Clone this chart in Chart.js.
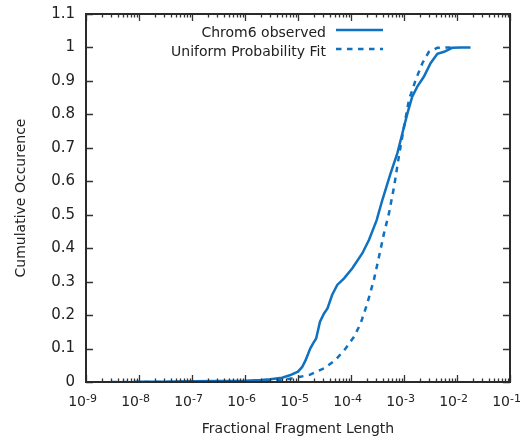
<!DOCTYPE html>
<html>
<head>
<meta charset="utf-8">
<script src="https://cdn.jsdelivr.net/npm/chart.js@4.4.1/dist/chart.umd.min.js"></script>
<style>
  html, body { margin: 0; padding: 0; background: #fff; }
</style>
</head>
<body>
<canvas id="cdf" width="528" height="439"></canvas>
<script>
// --- DATA ---
const observedX = [8.5e-9, 1e-8, 3e-8, 1e-7, 3e-7, 1e-6, 2e-6, 3e-6, 5e-6, 7e-6,
  1e-5, 1.2e-5, 1.4e-5, 1.7e-5, 1.94e-5, 2.2e-5, 2.6e-5, 3.1e-5, 3.6e-5, 4.4e-5,
  5.5e-5, 7.4e-5, 1.06e-4, 1.64e-4, 2.19e-4, 3.05e-4, 3.9e-4, 5.6e-4, 7.5e-4, 9.3e-4,
  1.16e-3, 1.43e-3, 1.78e-3, 2.38e-3, 3.17e-3, 4.26e-3, 5.7e-3, 8.1e-3, 1.2e-2, 1.8e-2];
const observedY = [0.001, 0.001, 0.001, 0.002, 0.003, 0.004, 0.006, 0.008, 0.013, 0.02,
  0.031, 0.045, 0.066, 0.1, 0.116, 0.13, 0.18, 0.205, 0.22, 0.26,
  0.29, 0.31, 0.34, 0.385, 0.425, 0.484, 0.544, 0.624, 0.684, 0.743,
  0.803, 0.853, 0.883, 0.913, 0.953, 0.981, 0.987, 0.999, 1.0, 1.0];

const fitX = [3e-9, 1e-8, 1e-7, 1e-6, 3e-6, 6e-6, 1e-5, 1.7e-5, 3.1e-5, 5.1e-5,
  7.9e-5, 1.14e-4, 1.52e-4, 2.03e-4, 2.7e-4, 3.38e-4, 4.2e-4, 5.2e-4, 6.5e-4, 8.0e-4,
  1.0e-3, 1.24e-3, 1.66e-3, 2.22e-3, 2.95e-3, 4.26e-3, 7.6e-3];
const fitY = [0, 0, 0, 0.001, 0.004, 0.008, 0.014, 0.022, 0.041, 0.066,
  0.10, 0.135, 0.175, 0.235, 0.305, 0.375, 0.445, 0.504, 0.584, 0.674,
  0.763, 0.843, 0.903, 0.953, 0.987, 0.999, 1.0];

const seriesNames = ['Chrom6 observed', 'Uniform Probability Fit'];
const xExponents = [-9, -8, -7, -6, -5, -4, -3, -2, -1];
const yTickValues = [0, 0.1, 0.2, 0.3, 0.4, 0.5, 0.6, 0.7, 0.8, 0.9, 1, 1.1];

const xTitle = 'Fractional Fragment Length';
const yTitle = 'Cumulative Occurence';

// --- STYLE ---
const BLUE = '#0f71c0';
const INK = '#222';
const FONT = '"DejaVu Sans", sans-serif';

function toPoints(xs, ys) {
  return xs.map((x, i) => ({ x: x, y: ys[i] }));
}

// draws the mirrored frame, inside ticks, 10^n labels, titles and legend
const framePlugin = {
  id: 'frame',
  afterDraw(chart) {
    const ctx = chart.ctx;
    const area = chart.chartArea;
    const xs = chart.scales.x;
    const ys = chart.scales.y;
    ctx.save();

    // ticks
    ctx.strokeStyle = '#333';
    ctx.lineWidth = 1.3;
    ctx.beginPath();
    xExponents.forEach(e => {
      const base = Math.pow(10, e);
      const px = Math.round(xs.getPixelForValue(base)) + 0.5;
      ctx.moveTo(px, area.bottom); ctx.lineTo(px, area.bottom - 7);
      ctx.moveTo(px, area.top); ctx.lineTo(px, area.top + 7);
      if (e < -1) {
        for (let m = 2; m <= 9; m++) {
          const mx = Math.round(xs.getPixelForValue(m * base)) + 0.5;
          ctx.moveTo(mx, area.bottom); ctx.lineTo(mx, area.bottom - 3.5);
          ctx.moveTo(mx, area.top); ctx.lineTo(mx, area.top + 3.5);
        }
      }
    });
    yTickValues.forEach(v => {
      const py = Math.round(ys.getPixelForValue(v)) + 0.5;
      ctx.moveTo(area.left, py); ctx.lineTo(area.left + 7, py);
      ctx.moveTo(area.right, py); ctx.lineTo(area.right - 7, py);
    });
    ctx.stroke();

    // border
    ctx.strokeStyle = '#2a2a2a';
    ctx.lineWidth = 2;
    ctx.strokeRect(area.left, area.top, area.right - area.left, area.bottom - area.top);

    // x tick labels 10^n
    ctx.fillStyle = INK;
    ctx.textBaseline = 'alphabetic';
    xExponents.forEach(e => {
      const px = xs.getPixelForValue(Math.pow(10, e));
      ctx.font = '14px ' + FONT;
      ctx.textAlign = 'right';
      ctx.fillText('10', px, area.bottom + 23.5);
      ctx.font = '11px ' + FONT;
      ctx.textAlign = 'left';
      ctx.fillText('-' + Math.abs(e), px, area.bottom + 19.5);
    });

    // axis titles
    ctx.font = '14px ' + FONT;
    ctx.textAlign = 'center';
    ctx.fillText(xTitle, (area.left + area.right) / 2, 433);
    ctx.save();
    ctx.translate(21, (area.top + area.bottom) / 2);
    ctx.rotate(-Math.PI / 2);
    ctx.textBaseline = 'middle';
    ctx.fillText(yTitle, 0, 0);
    ctx.restore();

    // legend
    ctx.textAlign = 'right';
    chart.data.datasets.forEach((ds, i) => {
      const ly = 30 + i * 19;
      ctx.fillStyle = INK;
      ctx.fillText(ds.label, 326, ly + 6.5);
      ctx.strokeStyle = ds.borderColor;
      ctx.lineWidth = ds.borderWidth;
      ctx.setLineDash(ds.borderDash || []);
      ctx.beginPath();
      ctx.moveTo(336, ly);
      ctx.lineTo(383, ly);
      ctx.stroke();
    });
    ctx.setLineDash([]);
    ctx.restore();
  }
};

const chart = new Chart(document.getElementById('cdf').getContext('2d'), {
  type: 'scatter',
  data: {
    datasets: [
      {
        label: seriesNames[0],
        data: toPoints(observedX, observedY),
        showLine: true,
        borderColor: BLUE,
        borderWidth: 2.5,
        pointRadius: 0,
        tension: 0
      },
      {
        label: seriesNames[1],
        data: toPoints(fitX, fitY),
        showLine: true,
        borderColor: BLUE,
        borderWidth: 2.5,
        borderDash: [5.5, 5.5],
        pointRadius: 0,
        tension: 0
      }
    ]
  },
  options: {
    responsive: false,
    animation: false,
    layout: { padding: { left: 0, top: 14, right: 18, bottom: 0 } },
    plugins: { legend: { display: false }, tooltip: { enabled: false } },
    scales: {
      x: {
        type: 'logarithmic',
        min: 1e-9,
        max: 1e-1,
        grid: { display: false },
        border: { display: false },
        ticks: { display: false },
        afterFit(scale) {
          scale.height = 57;
          scale.paddingLeft = 0;
          scale.paddingRight = 0;
        }
      },
      y: {
        min: 0,
        max: 1.1,
        grid: { display: false, drawTicks: false },
        border: { display: false },
        ticks: {
          stepSize: 0.1,
          padding: 11,
          color: INK,
          font: { family: FONT, size: 15 },
          callback: v => String(Math.round(v * 10) / 10)
        },
        afterFit(scale) {
          scale.width = 86;
          scale.paddingTop = 0;
          scale.paddingBottom = 0;
        }
      }
    }
  },
  plugins: [framePlugin]
});
</script>
</body>
</html>
